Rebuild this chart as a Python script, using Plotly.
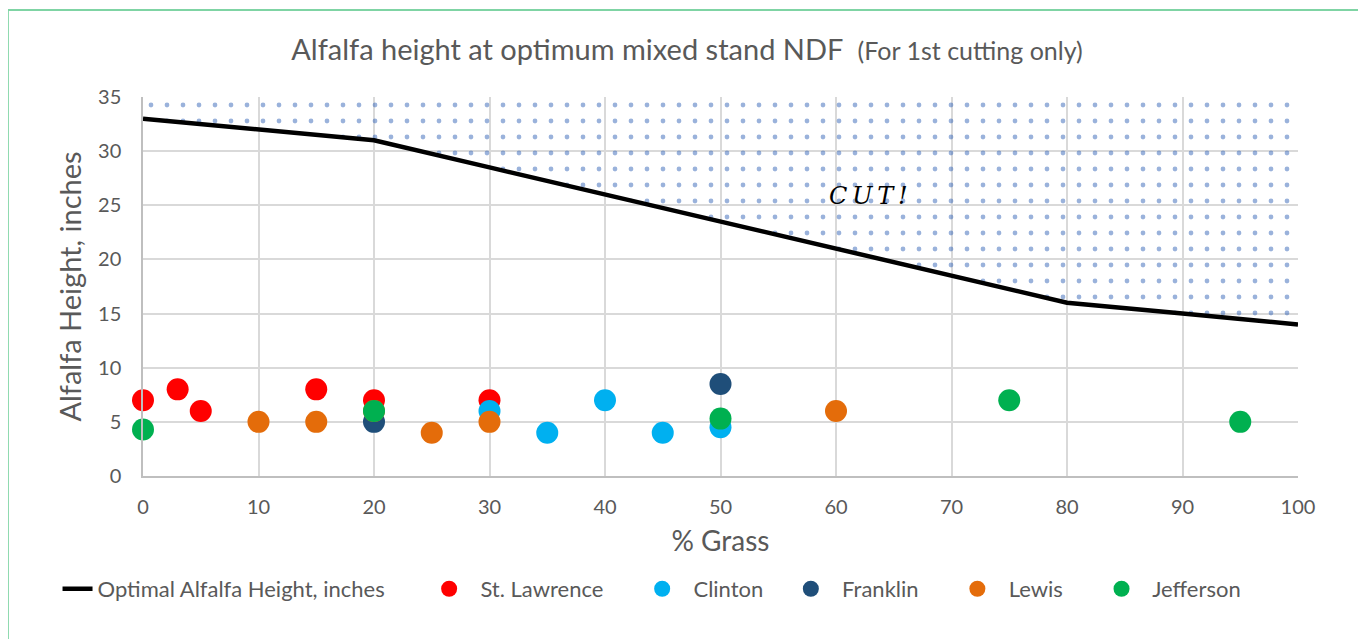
import plotly.graph_objects as go

# ---- data ----
grass_pct = [0, 10, 20, 30, 40, 50, 60, 70, 80, 90, 100]
optimal_height = [33, 32, 31, 28.5, 26, 23.5, 21, 18.5, 16, 15, 14]
cut_ceiling = [35] * len(grass_pct)

st_lawrence_x = [0, 3, 5, 15, 20, 30]
st_lawrence_y = [7, 8, 6, 8, 7, 7]
clinton_x = [30, 35, 40, 45, 50]
clinton_y = [6, 4, 7, 4, 4.5]
franklin_x = [20, 50]
franklin_y = [5, 8.5]
lewis_x = [10, 15, 20, 25, 30, 60]
lewis_y = [5, 5, 6, 4, 5, 6]
jefferson_x = [0, 20, 50, 75, 95]
jefferson_y = [4.3, 6, 5.3, 7, 5]

FONT = "Lato"
GREY = "#595959"
NB = "\u00a0"

fig = go.Figure()

# fill boundary (optimal line, invisible)
fig.add_trace(go.Scatter(x=grass_pct, y=optimal_height, mode="lines",
                         line=dict(width=0, color="rgba(0,0,0,0)"),
                         showlegend=False, hoverinfo="skip"))
# dotted "CUT" region
fig.add_trace(go.Scatter(x=grass_pct, y=cut_ceiling, mode="lines",
                         line=dict(width=0, color="rgba(0,0,0,0)"),
                         fill="tonexty", fillcolor="rgba(0,0,0,0)",
                         fillpattern=dict(shape=".", fgcolor="#3566B8",
                                          bgcolor="rgba(0,0,0,0)", size=16,
                                          solidity=0.07),
                         showlegend=False, hoverinfo="skip"))
fig.add_trace(go.Scatter(x=grass_pct, y=optimal_height, mode="lines",
                         name="Optimal Alfalfa Height, inches" + NB * 7,
                         line=dict(color="black", width=4.5)))

series = [
    ("St. Lawrence", st_lawrence_x, st_lawrence_y, "#FF0000", 6),
    ("Clinton", clinton_x, clinton_y, "#00B0F0", 4),
    ("Franklin", franklin_x, franklin_y, "#1F4E79", 6),
    ("Lewis", lewis_x, lewis_y, "#E46C0A", 6),
    ("Jefferson", jefferson_x, jefferson_y, "#00B050", 2),
]
for name, xs, ys, col, pad in series:
    fig.add_trace(go.Scatter(x=xs, y=ys, mode="markers", name=NB * 2 + name + NB * pad,
                             cliponaxis=False,
                             marker=dict(color=col, size=22, line=dict(width=0))))

fig.add_annotation(x=62.8, y=25.9, xref="x", yref="y", showarrow=False,
                   text="<i>C\u2009U\u2009T\u2009!</i>",
                   font=dict(family="DejaVu Serif", size=24, color="black"))

# green chart border (top + left visible)
fig.add_shape(type="line", xref="paper", yref="paper",
              x0=-0.117, x1=1.2, y0=1.2296, y1=1.2296,
              line=dict(color="#7FD4A4", width=2))
fig.add_shape(type="line", xref="paper", yref="paper",
              x0=-0.117, x1=-0.117, y0=1.2296, y1=-0.5,
              line=dict(color="#7FD4A4", width=2))

fig.update_layout(
    width=1358, height=631,
    margin=dict(l=135, r=68, t=89, b=163),
    paper_bgcolor="white", plot_bgcolor="white",
    font=dict(family=FONT, color=GREY),
    title=dict(text="Alfalfa height at optimum mixed stand NDF  <span style='font-size:25px'>(For 1st cutting only)</span>",
               x=0.5, xanchor="center", y=0.933, yanchor="middle",
               font=dict(family=FONT, size=29, color=GREY)),
    xaxis=dict(range=[0, 100], dtick=10, tick0=0, showgrid=True,
               gridcolor="#D9D9D9", gridwidth=1.5, zeroline=False,
               showline=True, linecolor="#BFBFBF", linewidth=1.5,
               ticks="", ticklabelstandoff=12, tickfont=dict(size=20, color=GREY),
               title=dict(text="% Grass", font=dict(size=28, color=GREY), standoff=15)),
    yaxis=dict(range=[0, 35], dtick=5, tick0=0, showgrid=True,
               gridcolor="#D9D9D9", gridwidth=1.5, zeroline=False,
               showline=True, linecolor="#BFBFBF", linewidth=1.5,
               ticks="", ticklabelstandoff=16, tickfont=dict(size=20, color=GREY),
               title=dict(text="Alfalfa Height, inches", font=dict(size=29, color=GREY), standoff=8)),
    legend=dict(orientation="h", x=-0.074, xanchor="left", y=-0.298, yanchor="middle",
                font=dict(size=22, color=GREY), bgcolor="rgba(0,0,0,0)",
                traceorder="normal", itemsizing="trace"),
    showlegend=True,
)

fig.write_html("out.html")
